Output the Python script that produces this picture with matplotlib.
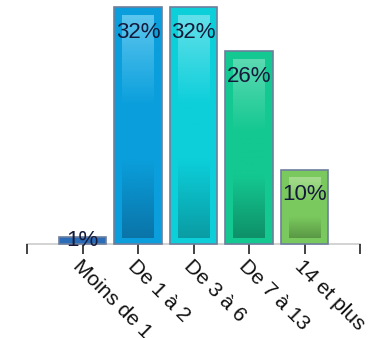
import matplotlib
matplotlib.use("Agg")
import matplotlib.pyplot as plt
import numpy as np
from matplotlib.colors import LinearSegmentedColormap

categories = ["Moins de 1", "De 1 à 2", "De 3 à 6", "De 7 à 13", "14 et plus"]
values = [1, 32, 32, 26, 10]
labels = ["1%", "32%", "32%", "26%", "10%"]

outer = ["#2a6cb8", "#0a9fdc", "#0ccfda", "#14c891", "#7ac95e"]
light = ["#3a80c8", "#5cc6ee", "#62e0ea", "#5cdab2", "#a6dc8e"]
dark = ["#1e5a9a", "#0a74a8", "#0a9ca4", "#0e9068", "#5a9845"]

plt.rcParams['font.family'] = ['Liberation Sans', 'DejaVu Sans']

fig = plt.figure(figsize=(3.73, 3.38), dpi=100)
ax = fig.add_axes([27/373, 94/338, 333/373, 237/338])
ax.set_xlim(0, 6)
ax.set_ylim(0, 32)

xs = np.arange(1, 6)
w = 0.85
pxx = 333 / 6.0
pxy = 237 / 32.0
for i, (x, v) in enumerate(zip(xs, values)):
    ax.bar(x, v, width=w, color=outer[i], edgecolor="#6d7f9c",
           linewidth=1.2, zorder=2, clip_on=False)
    ix0 = x - w / 2 + 8 / pxx
    ix1 = x + w / 2 - 8 / pxx
    iy0 = 6 / pxy
    iy1 = v - 8 / pxy
    if iy1 > iy0:
        cmap = LinearSegmentedColormap.from_list(
            "g%d" % i, [(0, dark[i]), (0.35, outer[i]), (0.6, outer[i]), (1, light[i])])
        grad = np.linspace(0, 1, 256).reshape(-1, 1)
        ax.imshow(grad, cmap=cmap, origin="lower", aspect="auto",
                  extent=[ix0, ix1, iy0, iy1], zorder=3, interpolation="bilinear")
    ypos = max(v - 25 / pxy, 0.5)
    ax.text(x, ypos, labels[i], ha="center", va="center", fontsize=16,
            color="#151a3a", zorder=5, clip_on=False)

ax.set_xlim(0, 6)
ax.set_ylim(0, 32)
ax.set_xticks(range(0, 7))
ax.set_xticklabels([""] + categories + [""], rotation=-45, ha="left", va="top",
                   rotation_mode="anchor", fontsize=15, color="#111111")
ax.tick_params(axis="x", length=7, width=1.2, color="#222222", pad=2)
ax.set_yticks([])
for s in ["top", "right", "left"]:
    ax.spines[s].set_visible(False)
ax.spines["bottom"].set_color("#cccccc")
ax.spines["bottom"].set_linewidth(1.2)
ax.spines["bottom"].set_zorder(1)

fig.savefig("out.png", dpi=100)
